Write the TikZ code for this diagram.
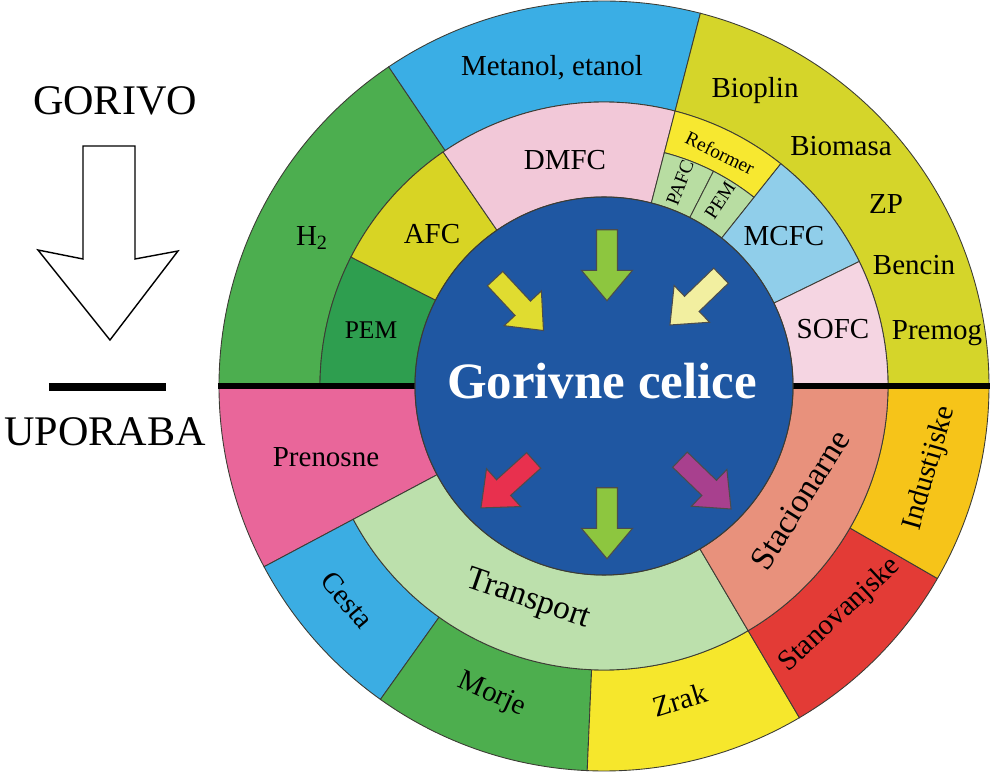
\documentclass[tikz,border=0pt]{standalone}
\usepackage{fontspec}
\setmainfont{Liberation Serif}
\usetikzlibrary{shapes.arrows}
\definecolor{RingEdge}{HTML}{3C3C34}
\definecolor{H2Green}{HTML}{4CAE4F}
\definecolor{PemGreen}{HTML}{2E9E4F}
\definecolor{AfcYellow}{HTML}{D8D424}
\definecolor{MetBlue}{HTML}{3AAEE5}
\definecolor{DmfcPink}{HTML}{F2C8D8}
\definecolor{FuelYellow}{HTML}{D5D52A}
\definecolor{RefYellow}{HTML}{F7E830}
\definecolor{CellGreen}{HTML}{B8DDA2}
\definecolor{McfcBlue}{HTML}{90CEEA}
\definecolor{SofcPink}{HTML}{F5D5E2}
\definecolor{CoreBlue}{HTML}{1F57A2}
\definecolor{PortPink}{HTML}{E9669A}
\definecolor{TransGreen}{HTML}{BCE0AC}
\definecolor{StatSalmon}{HTML}{E8917C}
\definecolor{RoadBlue}{HTML}{3BADE3}
\definecolor{SeaGreen}{HTML}{4DAE4E}
\definecolor{AirYellow}{HTML}{F6E72C}
\definecolor{HomeRed}{HTML}{E33B36}
\definecolor{IndOrange}{HTML}{F6C419}
\definecolor{ArrGreen}{HTML}{8DC63F}
\definecolor{ArrYellow}{HTML}{E0DC30}
\definecolor{ArrPale}{HTML}{F2EFA0}
\definecolor{ArrRed}{HTML}{E8304E}
\definecolor{ArrMagenta}{HTML}{A8408E}
% ring piece: colour, from angle, to angle, inner radius, outer radius
\newcommand{\ringpart}[5]{%
  \fill[#1, draw=RingEdge, line width=0.5pt] (#2:#4) -- (#2:#5)
    arc[start angle=#2, end angle=#3, radius=#5] -- (#3:#4)
    arc[start angle=#3, end angle=#2, radius=#4] -- cycle;}

\begin{document}
\begin{tikzpicture}[
  x=0.02cm, y=0.02cm,
  lbl/.style={font=\fontsize{16.5}{18}\selectfont, inner sep=0pt},
  tiny/.style={font=\fontsize{11}{12}\selectfont, inner sep=0pt},
  big/.style={font=\fontsize{24}{26}\selectfont, inner sep=0pt},
  flow/.style={single arrow, draw=black!70, line width=0.6pt,
               inner sep=0.2cm, minimum height=1.42cm,
               single arrow head extend=0.3cm, single arrow tip angle=80}
]
\useasboundingbox (-604,-387) rectangle (396,386);

% outer ring
\ringpart{H2Green}{124}{180}{284}{385}
\ringpart{MetBlue}{75.5}{124}{284}{385}
\ringpart{FuelYellow}{0}{75.5}{284}{385}
\ringpart{PortPink}{180}{208}{189}{385}
\ringpart{RoadBlue}{208}{234.5}{284}{385}
\ringpart{SeaGreen}{234.5}{267.5}{284}{385}
\ringpart{AirYellow}{267.5}{300.5}{284}{385}
\ringpart{HomeRed}{300.5}{330}{284}{385}
\ringpart{IndOrange}{330}{360}{284}{385}
% middle ring
\ringpart{PemGreen}{153}{180}{189}{284}
\ringpart{AfcYellow}{124.5}{153}{189}{284}
\ringpart{DmfcPink}{75.5}{124.5}{189}{284}
\ringpart{RefYellow}{51.5}{75.5}{241}{284}
\ringpart{CellGreen}{63}{75.5}{189}{241}
\ringpart{CellGreen}{51.5}{63}{189}{241}
\ringpart{McfcBlue}{26}{51.5}{189}{284}
\ringpart{SofcPink}{0}{26}{189}{284}
\ringpart{TransGreen}{208}{300.5}{189}{284}
\ringpart{StatSalmon}{300.5}{360}{189}{284}

\draw[line width=3.4pt] (-386,0) -- (386,0);
\fill[CoreBlue, draw=RingEdge, line width=0.6pt] (0,0) circle[radius=189];

% fuels
\node[lbl] (h2) at (-292,148) {H\textsubscript{2}};
\node[lbl] (metanol) at (-52,318) {Metanol, etanol};
\node[lbl] (bioplin) at (151,295) {Bioplin};
\node[lbl] (biomasa) at (237,240) {Biomasa};
\node[lbl] (zp) at (282,182) {ZP};
\node[lbl] (bencin) at (310,121) {Bencin};
\node[lbl] (premog) at (333,53) {Premog};
% cell types
\node[lbl] (pem) at (-233,56) {\fontsize{14.5}{16}\selectfont PEM};
\node[lbl] (afc) at (-172,152) {AFC};
\node[lbl] (dmfc) at (-39,226) {DMFC};
\node[tiny, rotate=-26] (reformer) at (116,233) {Reformer};
\node[tiny, rotate=69] (pafc) at (76,203) {PAFC};
\node[tiny, rotate=57] (pem2) at (116,186) {PEM};
\node[lbl] (mcfc) at (180,150) {MCFC};
\node[lbl] (sofc) at (229,57) {SOFC};
% uses
\node[lbl] (prenosne) at (-278,-71) {Prenosne};
\node[lbl, font=\fontsize{19}{21}\selectfont, rotate=-19] (transport) at (-76,-214) {Transport};
\node[lbl, rotate=58, font=\fontsize{19}{21}\selectfont] (stacionarne) at (196,-114) {Stacionarne};
\node[lbl, rotate=-50] (cesta) at (-257,-214) {Cesta};
\node[lbl, rotate=-24] (morje) at (-112,-309) {Morje};
\node[lbl, rotate=17] (zrak) at (76,-314) {Zrak};
\node[lbl, rotate=43] (stanovanjske) at (236,-229) {Stanovanjske};
\node[lbl, rotate=74] (industijske) at (326,-82) {Industijske};

% arrows in the core
\node[flow, fill=ArrGreen, rotate=-90] (a1) at (3,127) {};
\node[flow, fill=ArrYellow, rotate=-47] (a2) at (-89,86) {};
\node[flow, fill=ArrPale, rotate=-136] (a3) at (96,90) {};
\node[flow, fill=ArrRed, rotate=-138] (a4) at (-92,-94) {};
\node[flow, fill=ArrGreen, rotate=-90] (a5) at (3,-131) {};
\node[flow, fill=ArrMagenta, rotate=-44] (a6) at (97,-94) {};
\node[font=\fontsize{29}{31}\selectfont\bfseries, text=white] (core) at (-2,5) {Gorivne celice};

% legend on the left
\node[big] (gorivo) at (-489,285) {GORIVO};
\draw[line width=0.8pt, fill=white] (-521,240) -- (-469,240) -- (-469,127)
  -- (-426,135) -- (-494,46) -- (-566,136) -- (-521,127) -- cycle;
\draw[line width=4pt] (-555,-1) -- (-438,-1);
\node[big] (uporaba) at (-499,-46) {UPORABA};
\end{tikzpicture}
\end{document}
